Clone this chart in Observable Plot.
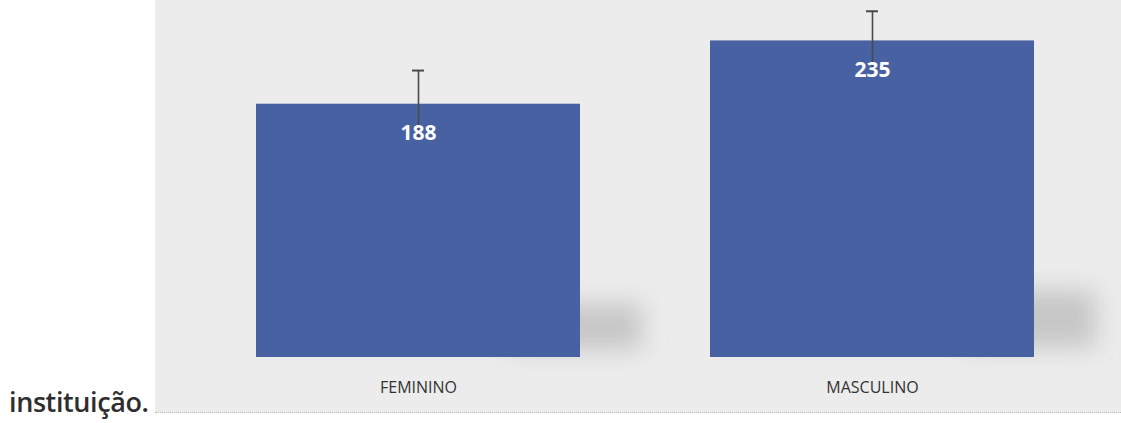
<!DOCTYPE html>
<html>
<head>
<meta charset="utf-8">
<script src="https://cdn.jsdelivr.net/npm/d3@7"></script>
<script src="https://cdn.jsdelivr.net/npm/@observablehq/plot@0.6"></script>
<style>
  html, body { margin: 0; padding: 0; background: #ffffff; }
  #wrap { position: relative; width: 1121px; height: 423px; overflow: hidden; }
  #panel { position: absolute; left: 155px; top: 0; width: 966px; height: 412px;
           background: #ececec; border-bottom: 1px dotted #b8b8b8; }
  #chart { position: absolute; left: 0; top: 0; }
  #lead { position: absolute; left: 9px; top: 388px; font-family: "Open Sans", sans-serif;
          font-weight: 600; font-size: 27px; color: #2e2e2e; line-height: 1; letter-spacing: -0.4px; }
</style>
</head>
<body>
<div id="wrap">
  <div id="panel"></div>
  <div id="chart"></div>
  <div id="lead">instituição.</div>
</div>
<script>
const categories = ["FEMININO", "MASCULINO"];
const values = [188, 235];
const errors = [25, 22];

const data = categories.map((c, i) => ({category: c, value: values[i], err: errors[i]}));

const chart = Plot.plot({
  width: 1121,
  height: 423,
  marginTop: 0,
  marginBottom: 66,
  marginLeft: 210,
  marginRight: 41,
  style: {background: "transparent", fontFamily: "Lato, 'Open Sans', sans-serif"},
  x: {domain: categories, paddingInner: 0.286, paddingOuter: 0.1, label: null},
  y: {domain: [0, 265], axis: null},
  marks: [
    Plot.barY(data, {
      x: "category", y1: d => d.value * 0.03, y2: d => d.value * 0.21, dx: 62, insetLeft: 190,
      fill: "#9a9a9a", fillOpacity: 0.45, imageFilter: "blur(12px)"
    }),
    Plot.barY(data, {x: "category", y: "value", fill: "#4761a3"}),
    Plot.ruleX(data, {x: "category", y1: d => d.value - d.err, y2: d => d.value + d.err,
      stroke: "#4a4a4a", strokeWidth: 1.6}),
    Plot.tickY(data, {x: "category", y: d => d.value + d.err, stroke: "#4a4a4a",
      strokeWidth: 2, insetLeft: 156, insetRight: 156}),
    Plot.text(data, {x: "category", y: "value", text: d => String(d.value), dy: 29,
      fill: "#ffffff", fontSize: 21, fontWeight: "bold", fontFamily: "'Open Sans', sans-serif"}),
    Plot.axisX({tickSize: 0, tickPadding: 24, fontSize: 16, fill: "#333333", label: null,
      fontFamily: "'Open Sans', sans-serif"})
  ]
});
document.getElementById("chart").appendChild(chart);
</script>
</body>
</html>
